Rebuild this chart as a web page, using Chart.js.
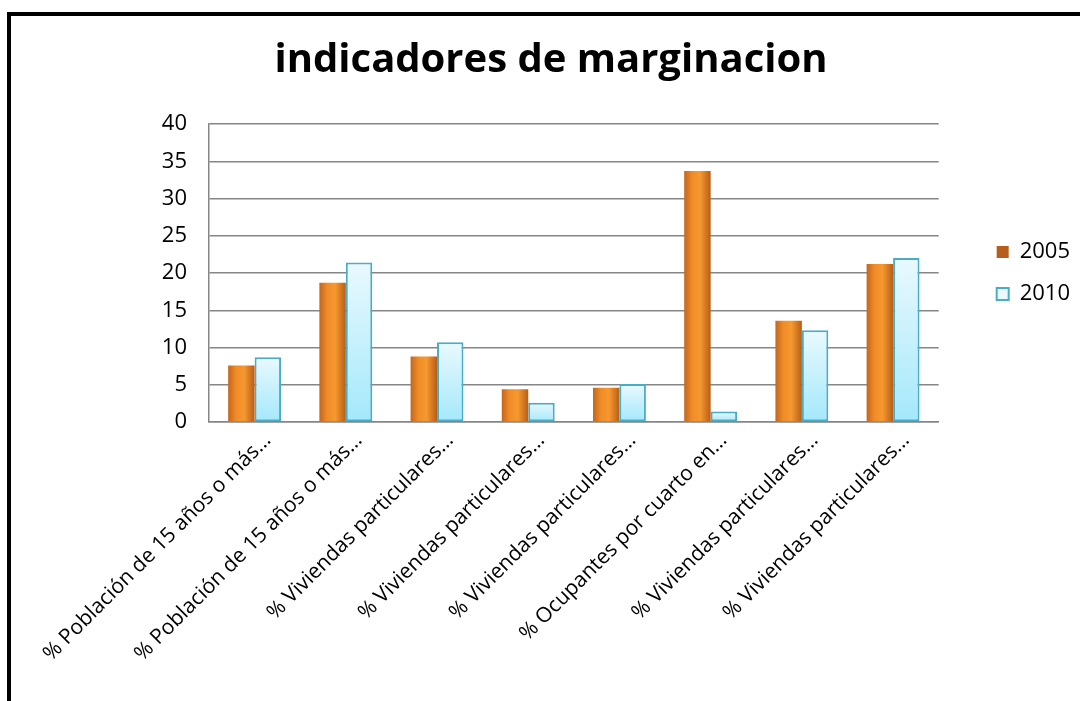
<!DOCTYPE html>
<html>
<head>
<meta charset="utf-8">
<style>
  html, body { margin: 0; padding: 0; background: #fff; }
  #wrap { position: relative; width: 1080px; height: 701px; overflow: hidden; }
  #frame { position: absolute; left: 7px; top: 12px; width: 1200px; height: 800px;
           border-left: 4px solid #000; border-top: 4px solid #000; pointer-events: none; }
  canvas { position: absolute; left: 0; top: 0; }
</style>
<script src="https://cdn.jsdelivr.net/npm/chart.js"></script>
</head>
<body>
<div id="wrap">
  <canvas id="margChart" width="1080" height="701"></canvas>
  <div id="frame"></div>
</div>
<script>
    // data
    const categories = [
        '% Población de 15 años o más…',
        '% Población de 15 años o más…',
        '% Viviendas particulares…',
        '% Viviendas particulares…',
        '% Viviendas particulares…',
        '% Ocupantes por cuarto en…',
        '% Viviendas particulares…',
        '% Viviendas particulares…'
    ];
    const seriesNames = ['2005', '2010'];
    const values2005 = [7.6, 18.7, 8.8, 4.4, 4.6, 33.7, 13.6, 21.2];
    const values2010 = [8.7, 21.4, 10.7, 2.6, 5.1, 1.4, 12.3, 22.0];
    const yTickValues = [0, 5, 10, 15, 20, 25, 30, 35, 40];

    const FONT = '"Open Sans", Lato, sans-serif';
    const CAT_PCT = 0.58;

    // orange bars: shaded left to right, per bar
    function orangeFill(context) {
        const chart = context.chart;
        const xs = chart.scales.x;
        if (context.type !== 'data' || !chart.chartArea || !xs) return '#ec8a26';
        const cx = xs.getPixelForValue(context.dataIndex);
        const half = xs.width / categories.length * CAT_PCT / 2;
        const g = chart.ctx.createLinearGradient(cx - half, 0, cx, 0);
        g.addColorStop(0, '#c4661c');
        g.addColorStop(0.3, '#f08c28');
        g.addColorStop(0.6, '#f7982f');
        g.addColorStop(1, '#b65e1a');
        return g;
    }

    // light blue bars: lighter at the top of each bar
    function blueFill(context) {
        const chart = context.chart;
        const ys = chart.scales.y;
        if (context.type !== 'data' || !chart.chartArea || !ys) return '#d4f3fc';
        const top = ys.getPixelForValue(context.raw);
        const bottom = ys.getPixelForValue(0);
        const g = chart.ctx.createLinearGradient(0, top, 0, bottom);
        g.addColorStop(0, '#e9f9fe');
        g.addColorStop(1, '#a4e8fb');
        return g;
    }

    const ctx = document.getElementById('margChart').getContext('2d');
    const chart = new Chart(ctx, {
        type: 'bar',
        data: {
            labels: categories,
            datasets: [{
                label: seriesNames[0],
                data: values2005,
                backgroundColor: orangeFill,
                borderWidth: 0,
                barPercentage: 1,
                categoryPercentage: CAT_PCT
            }, {
                label: seriesNames[1],
                data: values2010,
                backgroundColor: blueFill,
                borderColor: '#4bacc6',
                borderWidth: 2,
                borderSkipped: false,
                barPercentage: 1,
                categoryPercentage: CAT_PCT
            }]
        },
        options: {
            responsive: false,
            animation: false,
            layout: { padding: { left: 22, top: 14, right: 0, bottom: 0 } },
            scales: {
                x: {
                    grid: { display: false },
                    border: { display: true, color: '#868686', width: 1.5 },
                    ticks: {
                        autoSkip: false,
                        maxRotation: 45,
                        minRotation: 45,
                        padding: -2,
                        labelOffset: 13,
                        color: '#000',
                        font: { family: FONT, size: 21 }
                    },
                    afterFit: function(scale) { scale.height = 279; }
                },
                y: {
                    min: 0,
                    max: 40,
                    afterBuildTicks: function(scale) {
                        scale.ticks = yTickValues.map(v => ({ value: v }));
                    },
                    grid: { color: '#868686', lineWidth: 1.5, drawTicks: false },
                    border: { display: true, color: '#868686', width: 1.5 },
                    ticks: {
                        padding: 22,
                        color: '#000',
                        font: { family: FONT, size: 22 }
                    },
                    afterFit: function(scale) { scale.width = 187; }
                },
                // empty axis on the right, only to leave a gap before the legend
                gap: {
                    position: 'right',
                    display: true,
                    grid: { display: false, drawTicks: false },
                    border: { display: false },
                    ticks: { display: false },
                    afterFit: function(scale) { scale.width = 38; }
                }
            },
            plugins: {
                title: {
                    display: true,
                    text: 'indicadores de marginacion',
                    color: '#000',
                    font: { family: FONT, size: 40, weight: 'bold' },
                    padding: { top: 23, bottom: 39 }
                },
                legend: {
                    position: 'right',
                    fullSize: false,
                    labels: {
                        boxWidth: 12,
                        boxHeight: 12,
                        padding: 20,
                        color: '#000',
                        font: { family: FONT, size: 22 }
                    }
                },
                tooltip: { enabled: false }
            }
        }
    });
</script>
</body>
</html>
